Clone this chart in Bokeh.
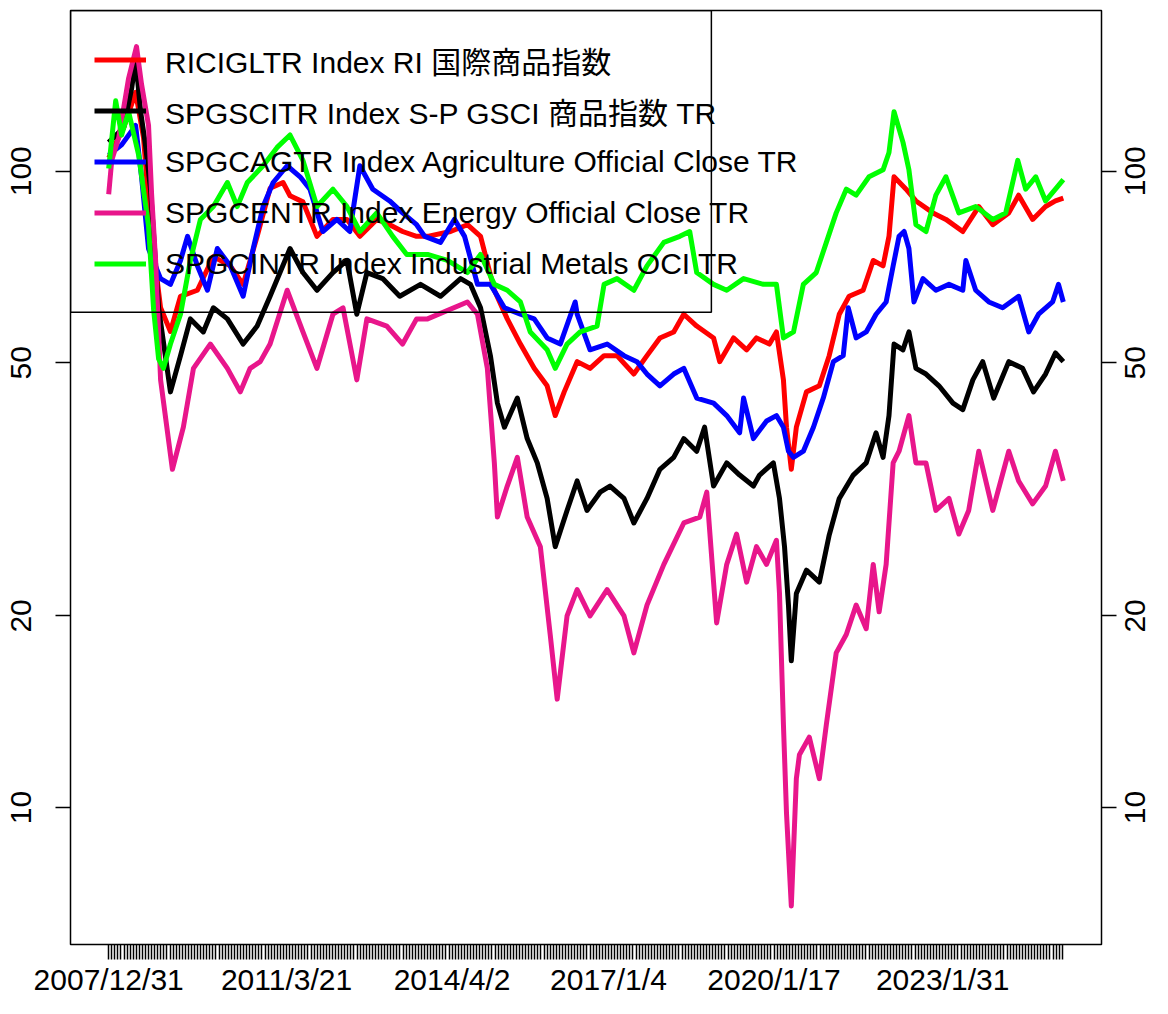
import math
from bokeh.plotting import figure
from bokeh.layouts import row
from bokeh.models import (FixedTicker, LogAxis, Legend, LegendItem, BoxAnnotation,
                          Range1d, NumeralTickFormatter)
from bokeh.core.properties import value
from bokeh.embed import file_html
from bokeh.resources import INLINE

# ---------------- data ----------------
n_days = 4360            # trading-day index 0 .. n_days-1
tick_step = 14           # a tick every 14 trading days
label_days = [0, 812, 1568, 2282, 3038, 3808]
label_text = ["2007/12/31", "2011/3/21", "2014/4/2", "2017/1/4", "2020/1/17", "2023/1/31"]
y_ticks = [10, 20, 50, 100]

names = ["RICIGLTR Index RI 国際商品指数",
         "SPGSCITR Index S-P GSCI 商品指数 TR",
         "SPGCAGTR Index Agriculture Official Close TR",
         "SPGCENTR Index Energy Official Close TR",
         "SPGCINTR Index Industrial Metals OCI TR"]

ricig_day = [0, 68, 123, 159, 191, 237, 282, 328, 405, 478, 555, 614, 678, 737, 796, 828, 887, 951, 1024, 1088,
             1147, 1224, 1283, 1342, 1406, 1456, 1561, 1638, 1698, 1761, 1820, 1880, 1943, 2002, 2039, 2080, 2139,
             2198, 2262, 2321, 2398, 2458, 2517, 2580, 2626, 2685, 2762, 2790, 2853, 2913, 2958, 3017, 3049, 3081,
             3095, 3117, 3140, 3186, 3245, 3290, 3336, 3381, 3445, 3491, 3536, 3563, 3586, 3641, 3686, 3764, 3823,
             3900, 3973, 4037, 4110, 4155, 4219, 4278, 4323, 4359]
ricig_val = [105, 117, 133, 113, 82, 61, 56, 63.6, 65, 73.4, 71, 66.4, 79, 94, 96, 91.5, 89.5, 79, 84, 84,
             79, 84, 82.4, 80.4, 79, 79, 80.4, 82.4, 79, 65, 58.6, 53.5, 49, 46, 41.3, 45, 50.2,
             49, 51.3, 51.3, 48, 51.3, 54.7, 55.9, 59.6, 57.1, 54.7, 50.2, 54.7, 52.4, 54.7, 53.5, 55.9, 47,
             39.6, 34, 39.6, 45, 46, 51.3, 59.6, 63.6, 65, 72.4, 71, 79, 98, 93.7, 89.8, 86, 84,
             80.4, 88, 82.4, 86, 91.7, 84, 88, 89.8, 90.7]

gsci_day = [0, 68, 105, 123, 146, 168, 191, 228, 282, 328, 373, 432, 478, 542, 614, 678, 737, 828, 887, 951,
            1024, 1088, 1133, 1179, 1251, 1329, 1424, 1515, 1607, 1652, 1698, 1743, 1775, 1807, 1866, 1911, 1957,
            2002, 2039, 2093, 2139, 2184, 2244, 2289, 2353, 2398, 2458, 2517, 2580, 2626, 2685, 2721, 2762, 2822,
            2881, 2944, 2972, 3035, 3063, 3086, 3104, 3117, 3140, 3186, 3245, 3290, 3336, 3400, 3459, 3504, 3536,
            3563, 3586, 3627, 3654, 3686, 3732, 3791, 3855, 3900, 3946, 3991, 4041, 4110, 4173, 4223, 4278, 4323,
            4359]
gsci_val = [111, 117, 135, 150, 124, 110, 93.7, 61, 45, 51.3, 58.6, 55.9, 61, 58.6, 53.5, 57.1, 63.6, 75.6, 69.3, 65,
            69.3, 72.4, 59.6, 69.3, 67.8, 63.6, 66.4, 63.6, 67.8, 66.4, 61, 51.3, 43.2, 39.6, 44, 38, 34.8,
            30.6, 25.7, 29.3, 32.6, 29.3, 31.3, 32, 30.6, 28, 30.6, 34, 35.5, 38, 36.3, 39.6, 32, 34.8,
            33.3, 32, 33.3, 34.8, 30.6, 25.7, 20.8, 17, 21.7, 23.6, 22.6, 26.8, 30.6, 33.3, 34.8, 38.8, 35.5,
            41.3, 53.5, 52.4, 55.9, 49, 48, 46, 43.2, 42.2, 47, 50.2, 44, 50.2, 49, 45, 48, 51.8,
            50.2]

agri_day = [0, 59, 123, 150, 182, 237, 282, 328, 360, 405, 451, 496, 555, 614, 660, 705, 751, 815, 874, 919,
            978, 1042, 1101, 1147, 1206, 1283, 1342, 1406, 1443, 1515, 1579, 1625, 1684, 1743, 1807, 1880, 1943,
            2002, 2062, 2130, 2139, 2198, 2276, 2353, 2412, 2458, 2517, 2580, 2626, 2685, 2762, 2822, 2881, 2899,
            2944, 3004, 3049, 3081, 3104, 3127, 3172, 3218, 3263, 3309, 3354, 3377, 3413, 3459, 3504, 3550, 3582,
            3609, 3632, 3654, 3677, 3718, 3777, 3837, 3900, 3914, 3959, 4019, 4082, 4155, 4201, 4246, 4310, 4337,
            4359]
agri_val = [106, 110, 118, 98, 75.5, 67.8, 66.4, 72.4, 79, 71, 65, 75.6, 71, 63.6, 75.6, 88, 96, 102, 98, 93.7,
            80.4, 84, 80.4, 102, 93.7, 89.8, 86, 82.4, 79, 77.3, 84, 79, 66.4, 66.4, 61, 59.6, 58.6,
            54.7, 53.5, 62.3, 59.6, 52.4, 53.5, 51.3, 50.2, 48, 46, 48, 49, 44, 43.2, 41.3, 38.8, 44,
            38, 40.5, 41.3, 39.6, 36.3, 35.5, 36.3, 39.6, 44, 50.2, 51.3, 61, 54.7, 55.9, 59.6, 62.3, 71,
            79, 80.4, 75.6, 62.3, 67.8, 65, 66.4, 65, 72.4, 65, 62.3, 61, 63.6, 55.9, 59.6, 62.3, 66.4,
            62.3]

energy_day = [0, 14, 46, 91, 127, 150, 182, 196, 214, 237, 291, 341, 387, 464, 542, 601, 646, 692, 737, 815,
              887, 951, 1024, 1070, 1133, 1179, 1270, 1342, 1406, 1456, 1638, 1684, 1729, 1761, 1775, 1820, 1866,
              1911, 1971, 2016, 2048, 2093, 2139, 2198, 2276, 2353, 2398, 2458, 2535, 2626, 2699, 2731, 2776, 2822,
              2867, 2913, 2958, 3004, 3049, 3063, 3081, 3095, 3117, 3140, 3154, 3199, 3245, 3277, 3322, 3368, 3413,
              3459, 3491, 3518, 3550, 3582, 3609, 3654, 3686, 3732, 3777, 3837, 3882, 3927, 3973, 4037, 4110, 4155,
              4219, 4278, 4323, 4359]
energy_val = [92, 104, 113, 140, 157, 137, 118, 92, 72.6, 47, 34, 39.6, 49, 53.5, 49, 45, 49, 50.2, 53.5, 65,
              55.9, 49, 59.6, 61, 47, 58.6, 57.1, 53.5, 58.6, 58.6, 62.3, 59.6, 49, 34.8, 28.6, 32, 35.5,
              28.6, 25.7, 18.7, 14.8, 20, 22, 20, 22, 20, 17.5, 20.8, 24.1, 28, 28.6, 31.3, 19.5, 24.1,
              26.9, 22.6, 25.7, 24.1, 26.3, 21.7, 13.5, 9.8, 7.0, 11.1, 12.1, 12.9, 11.1, 13.5, 17.5, 18.7, 20.8,
              19.1, 24.1, 20.3, 24.1, 34.8, 36.3, 41.3, 34.8, 34.8, 29.3, 30.6, 26.9, 29.3, 36.3, 29.3, 36.3, 32.6,
              30, 32, 36.3, 32.6]

metal_day = [0, 32, 59, 91, 137, 182, 205, 228, 250, 282, 328, 373, 419, 478, 542, 587, 633, 705, 769, 828,
             887, 951, 1024, 1088, 1147, 1224, 1297, 1361, 1456, 1547, 1638, 1698, 1761, 1820, 1880, 1925, 2002,
             2039, 2093, 2153, 2230, 2262, 2321, 2398, 2458, 2535, 2608, 2653, 2685, 2762, 2822, 2899, 2990, 3049,
             3081, 3127, 3172, 3231, 3277, 3322, 3368, 3413, 3472, 3536, 3563, 3586, 3627, 3654, 3686, 3732, 3777,
             3823, 3882, 3959, 4037, 4096, 4151, 4187, 4233, 4278, 4323, 4359]
metal_val = [101, 129, 114, 124, 106, 82, 60.7, 50.7, 49, 53.5, 59.6, 72.4, 84, 88, 96, 88, 96, 102, 109, 114,
             104, 88, 93.7, 88, 80.4, 86, 79, 74, 74, 72.4, 69.3, 74, 66.4, 65, 62.3, 55.9, 52.4,
             49, 53.5, 55.9, 57.1, 66.4, 67.8, 65, 71, 77.3, 79, 80.4, 69.3, 66.4, 65, 67.8, 66.4, 66.4,
             54.7, 55.9, 66.4, 69.3, 77.3, 86, 93.7, 91.7, 98, 100.5, 107, 124, 111, 100.5, 82.4, 80.4, 91.7,
             98, 86, 88, 84, 86, 104, 93.7, 98, 89.8, 93.7, 97]

colors = ["#FF0000", "#000000", "#0000FF", "#E8168B", "#00FF00"]

# ---------------- figure ----------------
FONT = "Liberation Sans"
N1 = n_days - 1
x_pad = 0.04 * N1
y_lo, y_hi = 6.09, 178.9
yr = Range1d(y_lo, y_hi)

MAIN_W, SIDE_W, H = 1117, 35, 998
TOP, BOTTOM = 10, 51

p = figure(width=MAIN_W, height=H, output_backend="svg", toolbar_location=None,
           y_axis_type="log",
           x_range=Range1d(-x_pad, N1 + x_pad), y_range=yr,
           min_border_left=70, min_border_right=16, min_border_top=TOP, min_border_bottom=BOTTOM)
p.background_fill_color = "white"
p.border_fill_color = "white"
p.grid.visible = False
p.outline_line_color = "black"
p.outline_line_width = 1.5
p.outline_line_alpha = 1.0

series = [(ricig_day, ricig_val), (gsci_day, gsci_val), (agri_day, agri_val),
          (energy_day, energy_val), (metal_day, metal_val)]
renderers = []
for (d, v), c in zip(series, colors):
    r = p.line(d, v, line_color=c, line_width=5, line_join="round")
    renderers.append(r)

# x axis: dense ticks, few labels
xt = list(range(0, n_days, tick_step))
p.xaxis.ticker = FixedTicker(ticks=xt, minor_ticks=[])
ov = {t: "" for t in xt}
for d, s in zip(label_days, label_text):
    ov[d] = s
p.xaxis.major_label_overrides = ov

def style_axis(ax, standoff, size="30px"):
    ax.axis_line_color = None
    ax.major_tick_line_color = "black"
    ax.major_tick_line_width = 1.5
    ax.major_tick_out = 15
    ax.major_tick_in = 0
    ax.minor_tick_line_color = None
    ax.major_label_text_font = FONT
    ax.major_label_text_font_size = size
    ax.major_label_text_color = "black"
    ax.major_label_standoff = standoff

style_axis(p.xaxis[0], 3)

p.yaxis.ticker = FixedTicker(ticks=y_ticks, minor_ticks=[])
p.yaxis.formatter = NumeralTickFormatter(format="0")
p.yaxis.major_label_orientation = "vertical"
style_axis(p.yaxis[0], 24)

# right axis: ticks only (labels are drawn in the side panel)
ry = LogAxis(ticker=FixedTicker(ticks=y_ticks, minor_ticks=[]),
             formatter=NumeralTickFormatter(format="0"))
style_axis(ry, 0, "1px")
ry.major_label_overrides = {t: "" for t in y_ticks}
p.add_layout(ry, "right")

# legend box (R-style, narrower than its text)
box_right_day = 2752
box_bottom_val = 60.0
p.add_layout(BoxAnnotation(left=-x_pad, right=box_right_day, bottom=box_bottom_val, top=y_hi,
                           fill_alpha=0, line_color="black", line_alpha=1.0, line_width=1.5))

legend = Legend(items=[LegendItem(label=n, renderers=[r]) for n, r in zip(names, renderers)],
                location="top_left", margin=0, padding=24, spacing=0,
                glyph_width=52, glyph_height=51, label_height=51, label_standoff=19,
                label_text_font=FONT + ", Noto Sans CJK JP", label_text_font_size="30px",
                label_text_color="black",
                border_line_alpha=0, background_fill_alpha=0)
p.add_layout(legend)

# side panel holding the right-hand tick labels (reading bottom-to-top)
p2 = figure(width=SIDE_W, height=H, output_backend="svg", toolbar_location=None,
            y_axis_type="log", x_range=Range1d(0, SIDE_W), y_range=yr,
            x_axis_location=None, y_axis_location=None,
            min_border_left=0, min_border_right=0, min_border_top=TOP, min_border_bottom=BOTTOM)
p2.grid.visible = False
p2.outline_line_color = None
p2.background_fill_color = "white"
p2.border_fill_color = "white"
p2.text(x=[SIDE_W / 2] * len(y_ticks), y=y_ticks, text=[str(t) for t in y_ticks], angle=math.pi / 2,
        text_align="center", text_baseline="middle", text_font=value(FONT),
        text_font_size="30px", text_color="black")

layout = row(p, p2, spacing=0)
open("out.html", "w").write(file_html(layout, INLINE))
